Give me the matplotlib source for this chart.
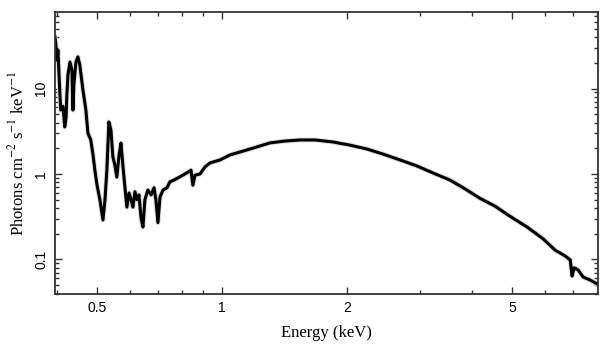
import matplotlib
matplotlib.use("Agg")
import matplotlib.pyplot as plt
from matplotlib.ticker import FixedLocator, NullFormatter, LogLocator

# spectrum (keV, photons cm^-2 s^-1 keV^-1)
energy = [0.396, 0.398, 0.400, 0.4025, 0.4047, 0.407, 0.409, 0.414, 0.418, 0.421,
          0.423, 0.4255, 0.4303, 0.435, 0.4375, 0.4397, 0.4447, 0.4497, 0.4545, 0.4624,
          0.470, 0.4754, 0.483, 0.489, 0.494, 0.500, 0.508, 0.5167, 0.5225, 0.528,
          0.534, 0.540, 0.546, 0.552, 0.558, 0.565, 0.571, 0.577, 0.583, 0.590,
          0.597, 0.604, 0.610, 0.617, 0.624, 0.631, 0.638, 0.645, 0.652, 0.663,
          0.675, 0.686, 0.693, 0.701, 0.709, 0.721, 0.737, 0.749, 0.766, 0.783,
          0.805, 0.828, 0.842, 0.851, 0.861, 0.885, 0.910, 0.936, 0.989, 1.045,
          1.105, 1.168, 1.235, 1.305, 1.419, 1.541, 1.675, 1.851, 2.03, 2.235,
          2.443, 2.685, 2.95, 3.22, 3.54, 3.85, 4.18, 4.55, 4.94, 5.43,
          5.94, 6.34, 6.71, 6.90, 6.97, 7.05, 7.21, 7.41, 7.70, 8.01]
flux = [40.0, 32.3, 21.5, 28.2, 15.6, 8.4, 5.6, 6.2, 3.55, 4.5,
        8.4, 14.4, 20.4, 16.5, 5.6, 11.0, 20.4, 23.4, 18.8, 9.6,
        5.6, 3.0, 2.5, 1.67, 1.11, 0.74, 0.50, 0.29, 0.50, 1.11,
        4.06, 3.27, 1.58, 1.27, 0.92, 1.67, 2.3, 1.27, 0.74, 0.41,
        0.60, 0.50, 0.41, 0.62, 0.50, 0.57, 0.31, 0.24, 0.50, 0.65,
        0.57, 0.69, 0.50, 0.27, 0.54, 0.65, 0.69, 0.81, 0.85, 0.90,
        0.97, 1.05, 1.11, 0.74, 0.97, 1.0, 1.21, 1.35, 1.46, 1.67,
        1.81, 1.96, 2.13, 2.31, 2.43, 2.50, 2.50, 2.37, 2.18, 1.96,
        1.71, 1.46, 1.24, 1.03, 0.85, 0.67, 0.52, 0.42, 0.32, 0.24,
        0.174, 0.129, 0.110, 0.0987, 0.064, 0.080, 0.0754, 0.0624, 0.0576, 0.0517]

xticks = [0.5, 1, 2, 5]
xtick_labels = ["0.5", "1", "2", "5"]
yticks = [0.1, 1, 10]
ytick_labels = ["0.1", "1", "10"]

plt.rcParams['mathtext.fontset'] = 'stix'

fig = plt.figure(figsize=(6.09, 3.57), dpi=100)
ax = fig.add_axes([0.0903, 0.1765, 0.8917, 0.7899])

# light gray halo stands in for the error bars
ax.plot(energy, flux, color='#dcdcdc', lw=3.6)
ax.plot(energy, flux, color='black', lw=2.2)

ax.set_xscale('log')
ax.set_yscale('log')
ax.set_xlim(0.396, 8.05)
ax.set_ylim(0.0395, 78.5)

ax.xaxis.set_major_locator(FixedLocator(xticks))
ax.set_xticklabels(xtick_labels)
ax.xaxis.set_minor_locator(FixedLocator([0.4, 0.6, 0.7, 0.8, 0.9, 3, 4, 6, 7, 8]))
ax.xaxis.set_minor_formatter(NullFormatter())
ax.yaxis.set_major_locator(FixedLocator(yticks))
ax.set_yticklabels(ytick_labels, rotation=90, va='center')
ax.yaxis.set_minor_locator(LogLocator(base=10, subs=range(2, 10)))
ax.yaxis.set_minor_formatter(NullFormatter())

ax.tick_params(which='both', direction='in', top=True, right=True, color='#333333')
ax.tick_params(which='major', length=5, width=1.0, labelsize=10, pad=5)
ax.tick_params(which='minor', length=2.8, width=1.0)
for lab in ax.get_xticklabels() + ax.get_yticklabels():
    lab.set_family('Liberation Sans')
for sp in ax.spines.values():
    sp.set_linewidth(1.3)
    sp.set_color('#333333')

ax.set_xlabel('Energy (keV)', family='Liberation Serif', fontsize=12, labelpad=7)
ax.set_ylabel(r'Photons cm$^{-2}$ s$^{-1}$ keV$^{-1}$', family='Liberation Serif', fontsize=12, labelpad=5)

fig.savefig('out.png', dpi=100)
